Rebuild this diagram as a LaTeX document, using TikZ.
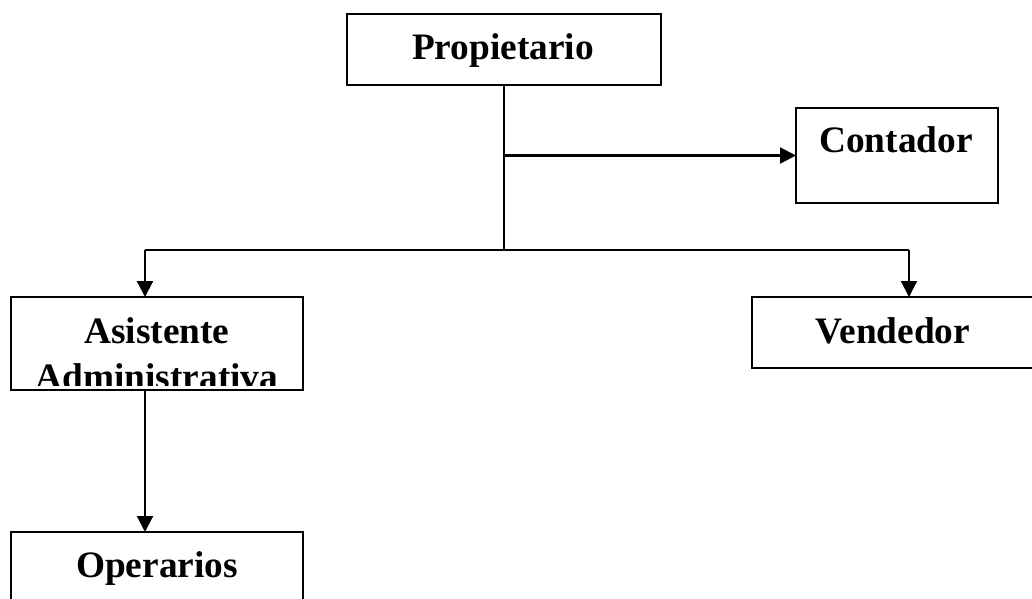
\documentclass[tikz,border=0pt]{standalone}
\usepackage{fontspec}
\setmainfont{Liberation Serif}
\usetikzlibrary{arrows.meta}
\begin{document}
\begin{tikzpicture}[x=0.75pt,y=-0.75pt,
  box/.style={draw=black,line width=1.6pt,rectangle,inner sep=0pt,outer sep=0pt,fill=none},
  lbl/.style={anchor=base,inner sep=0pt,font=\fontsize{28}{33}\selectfont\bfseries},
  line/.style={draw=black,line width=1.6pt},
  arr/.style={line,-{Triangle[length=12pt,width=12pt]}}]
\clip (0,0) rectangle (1032,599);
\fill[white] (0,0) rectangle (1032,599);
% boxes
\node[box,minimum width=235.5pt,minimum height=53.25pt] (prop) at (504,49.5) {};
\node[box,minimum width=151.5pt,minimum height=71.25pt] (cont) at (897,155.5) {};
\node[box,minimum width=211.5pt,minimum height=53.25pt] (vend) at (893,332.5) {};
\node[box,minimum width=219pt,minimum height=69.75pt] (asis) at (157,343.5) {};
\node[box,minimum width=219pt,minimum height=66pt] (oper) at (157,576) {};
% labels
\node[lbl] (tprop) at (503,60) {Propietario};
\node[lbl] (tcont) at (896,153) {Contador};
\node[lbl] (tvend) at (893,343) {Vendedor};
\node[lbl] (tasis) at (157,343) {Asistente};
\begin{scope}
\clip (13,299) rectangle (301,385);
\node[lbl] (tadmi) at (157,389) {Administrativa};
\end{scope}
\node[lbl] (toper) at (157,577) {Operarios};
% connectors
\coordinate (j) at (504,250);
\coordinate (L) at (145,250);
\coordinate (R) at (909,250);
\draw[line] (prop.south) -- (j);
\draw[arr] (prop.south |- cont.west) -- (cont.west);
\draw[line] (L) -- (R);
\draw[arr] (L) -- (L |- asis.north);
\draw[arr] (R) -- (R |- vend.north);
\draw[arr] (L |- asis.south) -- (L |- oper.north);
\end{tikzpicture}
\end{document}
